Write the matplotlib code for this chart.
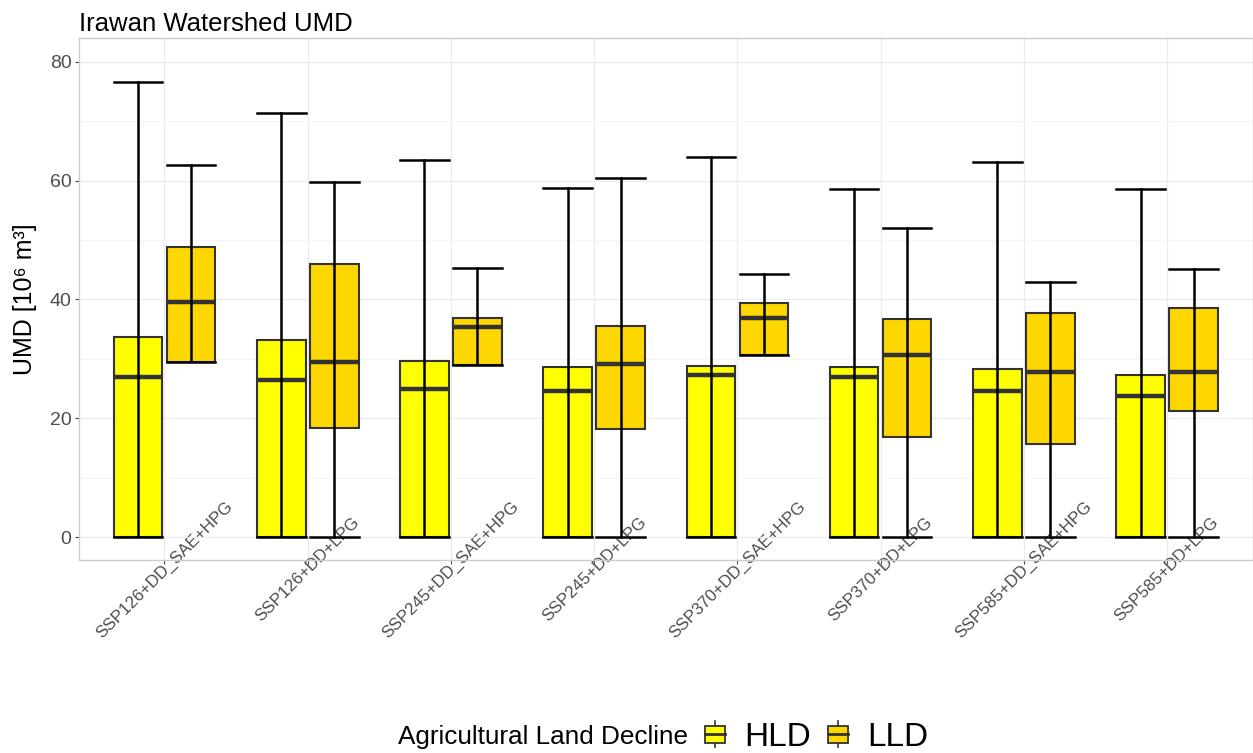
import numpy as np
import matplotlib
matplotlib.use('Agg')
import matplotlib.pyplot as plt
from matplotlib.patches import Patch, Rectangle
from matplotlib.lines import Line2D
from matplotlib.legend_handler import HandlerBase

plt.rcParams['font.family'] = ['Liberation Sans', 'DejaVu Sans']

# escenarios y valores resumidos de UMD (10^6 m3)
escenarios = ['SSP126+DD_SAE+HPG', 'SSP126+DD+LPG', 'SSP245+DD_SAE+HPG', 'SSP245+DD+LPG',
              'SSP370+DD_SAE+HPG', 'SSP370+DD+LPG', 'SSP585+DD_SAE+HPG', 'SSP585+DD+LPG']

hld_min = [0, 0, 0, 0, 0, 0, 0, 0]
hld_q1 = [0, 0, 0, 0, 0, 0, 0, 0]
hld_med = [26.9, 26.4, 24.9, 24.6, 27.2, 27.0, 24.5, 23.7]
hld_q3 = [33.7, 33.2, 29.7, 28.6, 28.8, 28.7, 28.2, 27.3]
hld_max = [76.6, 71.4, 63.4, 58.7, 63.9, 58.6, 63.1, 58.6]

lld_min = [29.5, 0, 29.0, 0, 30.6, 0, 0, 0]
lld_q1 = [29.5, 18.4, 29.0, 18.1, 30.6, 16.9, 15.6, 21.2]
lld_med = [39.6, 29.5, 35.3, 29.1, 36.9, 30.6, 27.7, 27.7]
lld_q3 = [48.8, 46.0, 36.8, 35.6, 39.4, 36.7, 37.7, 38.6]
lld_max = [62.7, 59.8, 45.3, 60.4, 44.3, 52.1, 43.0, 45.1]

grupos = ['HLD', 'LLD']
colores = ['#FFFF00', '#FFD700']


def stats(mn, q1, med, q3, mx):
    return [dict(whislo=a, q1=b, med=c, q3=d, whishi=e, fliers=[])
            for a, b, c, d, e in zip(mn, q1, med, q3, mx)]


fig = plt.figure(figsize=(12.53, 7.53), dpi=100)
ax = fig.add_axes([0.0627, 0.2563, 0.9373, 0.6932])

x = np.arange(1, len(escenarios) + 1)
ancho = 0.34
desplaz = 0.185

datos = [(hld_min, hld_q1, hld_med, hld_q3, hld_max),
         (lld_min, lld_q1, lld_med, lld_q3, lld_max)]

for i, (d, col) in enumerate(zip(datos, colores)):
    pos = x + (i * 2 - 1) * desplaz
    ax.bxp(stats(*d), positions=pos, widths=ancho, capwidths=ancho,
           patch_artist=True, showfliers=False, manage_ticks=False,
           boxprops=dict(facecolor=col, edgecolor='#333333', linewidth=1.5),
           medianprops=dict(color='#333333', linewidth=3.2),
           whiskerprops=dict(color='black', linewidth=1.8),
           capprops=dict(color='black', linewidth=1.8))
    # linea del bigote que atraviesa la caja
    ax.vlines(pos, d[1], d[3], color='black', linewidth=1.8, zorder=2.2)

ax.set_xlim(0.4, 8.6)
ax.set_ylim(-3.87, 84)
ax.set_xticks(x)
ax.set_xticklabels(escenarios, rotation=45, ha='center', va='center',
                   rotation_mode='anchor', fontsize=12.2, color='#4D4D4D')
ax.set_yticks([0, 20, 40, 60, 80])
ax.set_yticks([10, 30, 50, 70], minor=True)
ax.tick_params(axis='y', labelsize=14, labelcolor='#4D4D4D', colors='#4D4D4D',
               length=3, width=0.8, pad=2)
ax.tick_params(axis='x', length=3, width=0.8, colors='#4D4D4D', pad=4)
ax.tick_params(which='minor', length=0)

ax.set_axisbelow(True)
ax.grid(which='major', color='#EBEBEB', linewidth=0.9)
ax.grid(which='minor', axis='y', color='#F4F4F4', linewidth=0.6)
for s in ax.spines.values():
    s.set_color('#CCCCCC')
    s.set_linewidth(1.0)

ax.set_ylabel('UMD [10⁶ m³]', fontsize=18, labelpad=9)
ax.set_title('Irawan Watershed UMD', loc='left', fontsize=18.5, pad=5)


class CajaLeyenda(HandlerBase):
    def create_artists(self, legend, orig_handle, xdescent, ydescent,
                       width, height, fontsize, trans):
        x0, y0 = -xdescent, -ydescent
        fc = orig_handle.get_facecolor()
        linea = Line2D([x0 + width / 2] * 2, [y0 - 0.05 * height, y0 + 1.05 * height],
                       color='#333333', linewidth=1.2, transform=trans)
        caja = Rectangle((x0, y0 + 0.15 * height), width, 0.7 * height,
                         facecolor=fc, edgecolor='#333333', linewidth=1.3, transform=trans)
        med = Line2D([x0, x0 + width], [y0 + height / 2] * 2,
                     color='#333333', linewidth=2, transform=trans)
        return [linea, caja, med]


handles = [Patch(facecolor=c, edgecolor='#333333', label=g) for g, c in zip(grupos, colores)]
fig.text(688 / 1253, 0.0206, 'Agricultural Land Decline', ha='right', va='center', fontsize=18.8)
fig.legend(handles=handles, loc='center left', bbox_to_anchor=(705 / 1253, 0.0206),
           ncol=2, frameon=False, fontsize=24, handlelength=0.6, handleheight=0.72,
           handletextpad=0.58, columnspacing=0.52, borderpad=0, borderaxespad=0,
           handler_map={Patch: CajaLeyenda()})

fig.savefig('out.png', dpi=100)
